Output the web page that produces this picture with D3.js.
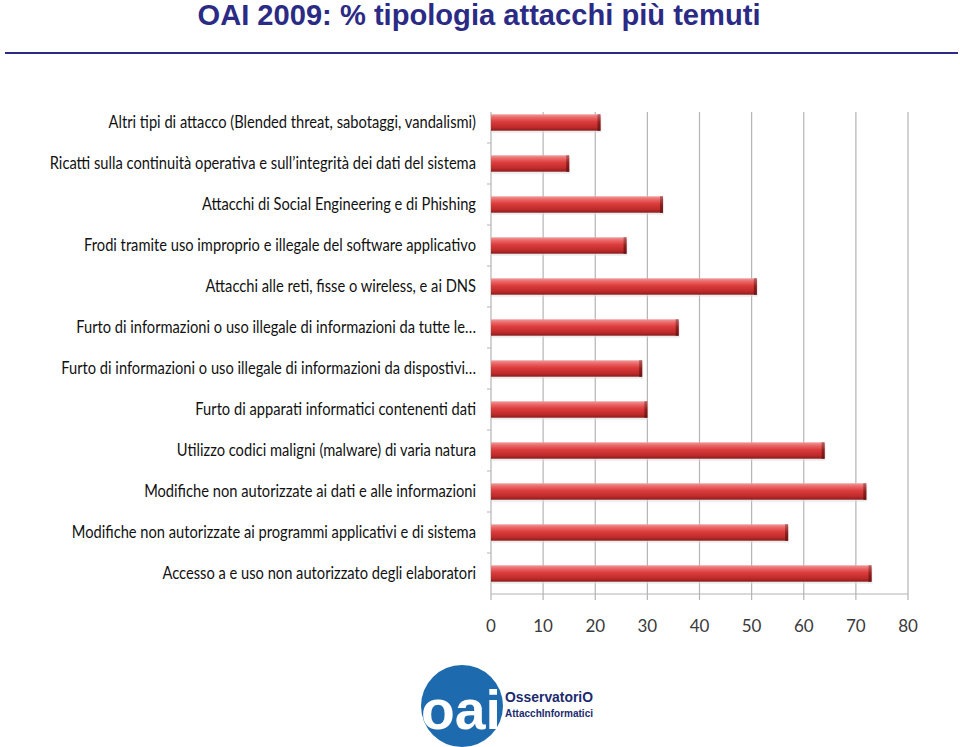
<!DOCTYPE html>
<html>
<head>
<meta charset="utf-8">
<script src="https://cdn.jsdelivr.net/npm/d3@7"></script>
<style>
  body { margin: 0; background: #fff; }
  .title { font-family: "Liberation Sans", Arial, sans-serif; font-weight: bold; fill: #2b2b85; }
  .cat text { font-family: Lato, "Noto Sans", sans-serif; fill: #111; }
  .xaxis text { font-family: Lato, "Noto Sans", sans-serif; fill: #3a3a3a; }
</style>
</head>
<body>
<div id="viz_container"></div>
<script>
// chart data, top to bottom as in the picture
const categories = [
    "Altri tipi di attacco (Blended threat, sabotaggi, vandalismi)",
    "Ricatti sulla continuità operativa e sull’integrità dei dati del sistema",
    "Attacchi di Social Engineering e di Phishing",
    "Frodi tramite uso improprio e illegale del software applicativo",
    "Attacchi alle reti, fisse o wireless, e ai DNS",
    "Furto di informazioni o uso illegale di informazioni da tutte le…",
    "Furto di informazioni o uso illegale di informazioni da dispostivi…",
    "Furto di apparati informatici contenenti dati",
    "Utilizzo codici maligni (malware) di varia natura",
    "Modifiche non autorizzate ai dati e alle informazioni",
    "Modifiche non autorizzate ai programmi applicativi e di sistema",
    "Accesso a e uso non autorizzato degli elaboratori"
];
const values = [21, 15, 33, 26, 51, 36, 29, 30, 64, 72, 57, 73];
const xTicks = [0, 10, 20, 30, 40, 50, 60, 70, 80];

const W = 960, H = 747;
const plot = { left: 491, right: 908, top: 102, bottom: 594 };

const svg = d3.select("#viz_container")
    .append("svg")
    .attr("width", W)
    .attr("height", H);

// gradient for the cylinder-like bars
const defs = svg.append("defs");
const grad = defs.append("linearGradient")
    .attr("id", "barGrad")
    .attr("x1", 0).attr("y1", 0).attr("x2", 0).attr("y2", 1);
[[0, "#ee9c9c"], [0.18, "#ec6a6a"], [0.45, "#dc3c3c"], [0.8, "#bd2a2a"], [1, "#8c1c1c"]]
    .forEach(s => grad.append("stop").attr("offset", s[0]).attr("stop-color", s[1]));
const endGrad = defs.append("linearGradient")
    .attr("id", "endGrad")
    .attr("x1", 0).attr("y1", 0).attr("x2", 0).attr("y2", 1);
[[0, "#b86060"], [0.5, "#8f2020"], [1, "#6a1414"]]
    .forEach(s => endGrad.append("stop").attr("offset", s[0]).attr("stop-color", s[1]));

// title and rule
svg.append("text")
    .attr("class", "title")
    .attr("x", 479)
    .attr("y", 25)
    .attr("text-anchor", "middle")
    .attr("font-size", 29)
    .attr("textLength", 563)
    .attr("lengthAdjust", "spacingAndGlyphs")
    .text("OAI 2009: % tipologia attacchi più temuti");

svg.append("line")
    .attr("x1", 5).attr("x2", 958)
    .attr("y1", 53).attr("y2", 53)
    .attr("stroke", "#2b2b85")
    .attr("stroke-width", 2);

// scales
const xScale = d3.scaleLinear().domain([0, 80]).range([plot.left, plot.right]);
const yScale = d3.scaleBand()
    .domain(categories)
    .range([plot.top, plot.bottom])
    .paddingInner(0.6)
    .paddingOuter(0.3);

// vertical grid
svg.append("g")
    .selectAll("line")
    .data(xTicks.slice(1))
    .join("line")
    .attr("x1", d => xScale(d)).attr("x2", d => xScale(d))
    .attr("y1", plot.top + 10).attr("y2", plot.bottom + 6)
    .attr("stroke", "#b4b4b4")
    .attr("stroke-width", 1.2);

// left axis line with small tick marks between categories
svg.append("line")
    .attr("x1", plot.left).attr("x2", plot.left)
    .attr("y1", plot.top + 10).attr("y2", plot.bottom + 6)
    .attr("stroke", "#b4b4b4")
    .attr("stroke-width", 1.2);
const step = yScale.step();
svg.append("g")
    .selectAll("line")
    .data(categories.slice(1))
    .join("line")
    .attr("x1", plot.left - 4).attr("x2", plot.left)
    .attr("y1", d => yScale(d) - (step - yScale.bandwidth()) / 2)
    .attr("y2", d => yScale(d) - (step - yScale.bandwidth()) / 2)
    .attr("stroke", "#b4b4b4");

// bottom axis
svg.append("line")
    .attr("x1", plot.left).attr("x2", plot.right)
    .attr("y1", plot.bottom).attr("y2", plot.bottom)
    .attr("stroke", "#b4b4b4")
    .attr("stroke-width", 1.2);

svg.append("g")
    .attr("class", "xaxis")
    .attr("transform", `translate(0,${plot.bottom + 32})`)
    .selectAll("text")
    .data(xTicks)
    .join("text")
    .attr("x", d => xScale(d))
    .attr("dy", "0.35em")
    .attr("text-anchor", "middle")
    .attr("font-size", 17)
    .text(d => d);

// category labels (narrowed to look like the condensed original)
svg.append("g")
    .attr("class", "cat")
    .attr("transform", "translate(476,0) scale(0.89,1)")
    .selectAll("text")
    .data(categories)
    .join("text")
    .attr("x", 0)
    .attr("y", d => yScale(d) + yScale.bandwidth() / 2)
    .attr("dy", "0.35em")
    .attr("text-anchor", "end")
    .attr("font-size", 16.5)
    .text(d => d);

// bars
const bars = svg.append("g")
    .selectAll("g")
    .data(categories.map((c, i) => [c, values[i]]))
    .join("g");

bars.append("rect")
    .attr("x", xScale(0) + 1)
    .attr("y", d => yScale(d[0]) + 2)
    .attr("width", d => xScale(d[1]) - xScale(0))
    .attr("height", yScale.bandwidth())
    .attr("fill", "#ddd")
    .attr("opacity", 0.6);

bars.append("rect")
    .attr("x", xScale(0))
    .attr("y", d => yScale(d[0]))
    .attr("width", d => xScale(d[1]) - xScale(0))
    .attr("height", yScale.bandwidth())
    .attr("fill", "url(#barGrad)");

bars.append("rect")
    .attr("x", d => xScale(d[1]) - 3)
    .attr("y", d => yScale(d[0]))
    .attr("width", 3)
    .attr("height", yScale.bandwidth())
    .attr("fill", "url(#endGrad)");

// logo
const logo = svg.append("g");
logo.append("circle")
    .attr("cx", 462).attr("cy", 706).attr("r", 41)
    .attr("fill", "#1e6aae");
logo.append("text")
    .attr("x", 461).attr("y", 729)
    .attr("text-anchor", "middle")
    .attr("font-family", "Liberation Sans, Arial, sans-serif")
    .attr("font-weight", "bold")
    .attr("font-size", 56)
    .attr("textLength", 80)
    .attr("lengthAdjust", "spacingAndGlyphs")
    .attr("fill", "#fff")
    .text("oai");
logo.append("text")
    .attr("x", 505).attr("y", 702)
    .attr("font-family", "Liberation Sans, Arial, sans-serif")
    .attr("font-weight", "bold")
    .attr("font-size", 15)
    .attr("textLength", 88)
    .attr("lengthAdjust", "spacingAndGlyphs")
    .attr("fill", "#1c2a6e")
    .text("OsservatoriO");
logo.append("text")
    .attr("x", 505).attr("y", 717)
    .attr("font-family", "Liberation Sans, Arial, sans-serif")
    .attr("font-weight", "bold")
    .attr("font-size", 10)
    .attr("textLength", 88)
    .attr("lengthAdjust", "spacingAndGlyphs")
    .attr("fill", "#1c2a6e")
    .text("AttacchInformatici");
</script>
</body>
</html>
